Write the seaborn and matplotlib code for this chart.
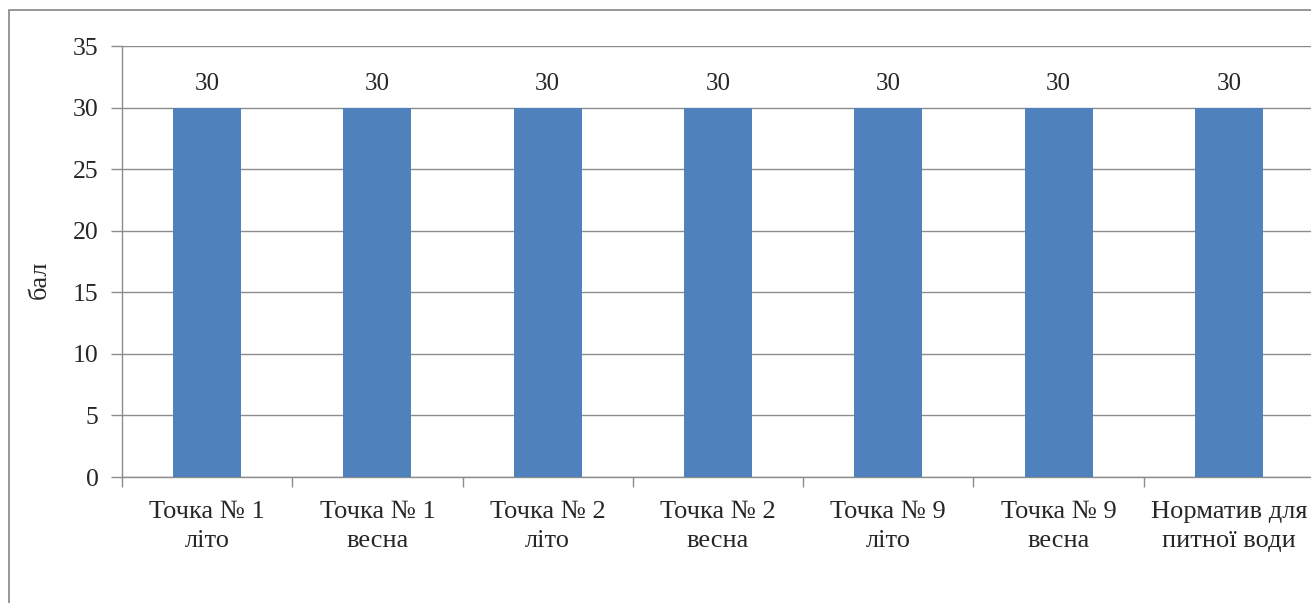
import matplotlib
matplotlib.use("Agg")
import matplotlib.pyplot as plt
import matplotlib.patches as mpatches
import seaborn as sns
import pandas as pd

# --- дані ---
categories = ["Точка № 1\nліто", "Точка № 1\nвесна", "Точка № 2\nліто",
              "Точка № 2\nвесна", "Точка № 9\nліто", "Точка № 9\nвесна",
              "Норматив для\nпитної води"]
values = [30, 30, 30, 30, 30, 30, 30]
y_ticks = [0, 5, 10, 15, 20, 25, 30, 35]

df = pd.DataFrame({"cat": categories, "val": values})

sns.set_style("white")
plt.rcParams["font.family"] = ["Liberation Serif", "DejaVu Serif"]

grey = "#8c8c8c"
fig = plt.figure(figsize=(13.11, 6.03), dpi=100)
ax = fig.add_axes([122 / 1311, 126 / 603, 1192 / 1311, 431 / 603])

sns.barplot(data=df, x="cat", y="val", color="#4F81BD", width=0.4,
            saturation=1, linewidth=0, ax=ax, zorder=3)
ax.bar_label(ax.containers[0], fontsize=18, padding=9)

ax.set_ylim(0, 35)
ax.set_xlim(-0.5, len(categories) - 0.5)
ax.set_yticks(y_ticks)
ax.tick_params(axis="y", labelsize=18.5, length=8, width=1, color=grey,
               direction="out", pad=9, left=True)
ax.grid(axis="y", color=grey, linewidth=1, zorder=0)

# підписи категорій по центру, риски на межах
ax.set_xticks([i - 0.5 for i in range(len(categories) + 1)])
ax.set_xticklabels([])
ax.set_xticks(range(len(categories)), minor=True)
ax.set_xticklabels(categories, minor=True, fontsize=19, linespacing=1.45)
ax.tick_params(axis="x", which="minor", length=0, pad=17)
ax.tick_params(axis="x", which="major", length=7, width=1, color=grey,
               direction="out", bottom=True)

ax.set_xlabel("")
ax.set_ylabel("бал", fontsize=19)
ax.yaxis.set_label_coords(-0.060, 0.457)

for s in ["top", "right"]:
    ax.spines[s].set_visible(False)
for s in ["left", "bottom"]:
    ax.spines[s].set_color(grey)
    ax.spines[s].set_linewidth(1)

# рамка діаграми
fig.patches.append(mpatches.Rectangle((9 / 1311, -0.1), 1.2, (603 - 10) / 603 + 0.1,
                                      transform=fig.transFigure, fill=False,
                                      edgecolor="#868686", linewidth=1.2))

fig.savefig("out.png", dpi=100)
